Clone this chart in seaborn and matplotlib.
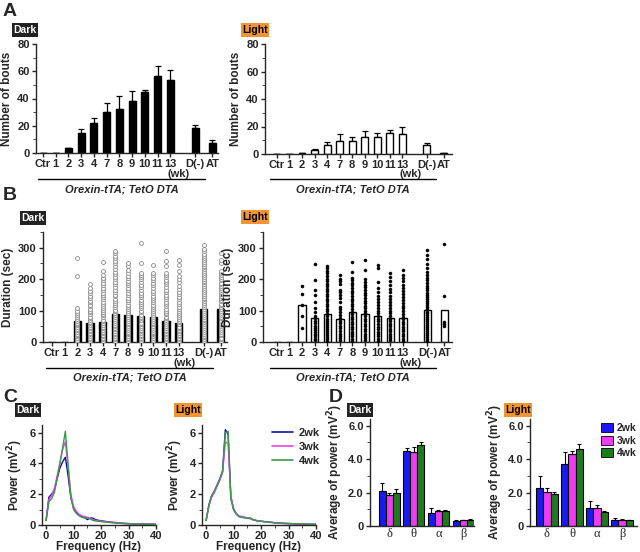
import matplotlib
matplotlib.use('Agg')
import matplotlib.pyplot as plt
from matplotlib.lines import Line2D
from matplotlib.patches import Patch
from matplotlib.ticker import MultipleLocator
import seaborn as sns
import pandas as pd
import numpy as np

# ---------------- data ----------------
categories = ['Ctr', '1', '2', '3', '4', '7', '8', '9', '10', '11', '13', 'D(-)', 'AT']

bouts_dark = [0, 0, 3.5, 15, 22, 30, 32.5, 38, 45, 56.5, 53.5, 18, 7]
bouts_dark_err = [0, 0, 0.5, 2.5, 3.5, 6.5, 9, 7.5, 1.5, 7.5, 7.5, 2.5, 2.5]
bouts_light = [0, 0, 0.5, 3.2, 6.8, 9.8, 9.8, 12.2, 12.7, 15.6, 14.4, 6.8, 0.5]
bouts_light_err = [0, 0, 0.3, 0.5, 1.7, 4.9, 2.9, 4.2, 2.4, 2.2, 4.9, 1.2, 0.4]

dur_dark_mean = [0, 0, 67, 62, 65, 89, 86, 83, 80, 68, 62, 104, 105]
dur_light_mean = [0, 0, 117, 76, 89, 73, 95, 88, 83, 76, 77, 102, 102]

# individual bouts (sec), per group
dur_dark_pts = {
    '2': [3, 7, 12, 18, 22, 27, 33, 38, 42, 47, 53, 58, 62, 68, 73, 79, 85, 92, 100, 109, 209, 267],
    '3': [4, 9, 13, 19, 24, 28, 34, 39, 45, 49, 55, 60, 64, 71, 76, 81, 88, 95, 99, 106, 113, 118, 126, 131, 139, 147, 155, 162, 171, 184],
    '4': [3, 8, 14, 18, 23, 29, 33, 39, 44, 48, 54, 61, 66, 71, 78, 85, 90, 97, 103, 109, 114, 122, 128, 137, 143, 151, 157, 166, 173, 181, 189, 197, 205, 213, 225, 254],
    '7': [4, 9, 13, 19, 25, 29, 34, 40, 44, 50, 55, 61, 68, 73, 80, 85, 91, 98, 103, 111, 117, 123, 131, 138, 146, 151, 160, 167, 176, 183, 192, 199, 208, 215, 223, 233, 241, 250, 257, 266, 274, 282, 291],
    '8': [3, 8, 12, 18, 24, 28, 33, 39, 44, 51, 56, 61, 68, 74, 79, 86, 93, 98, 105, 111, 119, 127, 133, 141, 148, 155, 164, 171, 180, 188, 195, 205, 211, 220, 230, 241, 251],
    '9': [4, 9, 14, 19, 23, 29, 35, 39, 45, 52, 57, 62, 69, 76, 81, 87, 94, 99, 107, 113, 121, 128, 134, 143, 150, 157, 166, 174, 181, 190, 199, 206, 213, 220, 251, 315],
    '10': [3, 7, 13, 18, 24, 28, 33, 38, 43, 50, 57, 62, 67, 74, 81, 86, 92, 99, 105, 111, 119, 126, 134, 140, 147, 156, 163, 172, 180, 187, 196, 204, 213, 220, 246],
    '11': [4, 9, 13, 18, 24, 29, 35, 39, 45, 51, 56, 63, 70, 75, 81, 88, 93, 100, 106, 114, 122, 127, 136, 142, 151, 158, 165, 174, 183, 190, 198, 207, 214, 220, 241, 259, 288],
    '13': [3, 8, 14, 19, 23, 28, 34, 38, 44, 49, 56, 63, 67, 73, 80, 86, 92, 99, 104, 112, 121, 127, 137, 144, 153, 160, 170, 179, 190, 199, 211, 226, 245, 262],
    'D(-)': [3, 8, 15, 20, 27, 33, 38, 45, 51, 56, 63, 69, 74, 81, 87, 92, 99, 106, 111, 117, 124, 129, 136, 141, 147, 154, 159, 166, 171, 177, 184, 190, 195, 202, 207, 214, 219, 226, 231, 238, 243, 249, 256, 261, 268, 274, 281, 289, 297, 308],
    'AT': [4, 9, 14, 21, 26, 32, 39, 44, 50, 57, 62, 68, 75, 80, 86, 93, 98, 105, 110, 117, 122, 129, 135, 140, 147, 153, 158, 165, 171, 177, 184, 189, 196, 202, 207, 214, 219, 225, 251, 260, 283],
}
dur_light_pts = {
    '2': [45, 82, 118, 153, 177],
    '3': [6, 11, 16, 22, 27, 33, 39, 46, 52, 60, 67, 75, 84, 95, 108, 128, 148, 166, 198, 249],
    '4': [4, 10, 15, 22, 29, 34, 41, 47, 53, 61, 68, 74, 82, 90, 98, 105, 114, 121, 130, 138, 145, 154, 162, 169, 178, 186, 193, 202, 210, 219, 227, 235, 243],
    '7': [5, 12, 19, 27, 35, 44, 52, 61, 68, 77, 86, 95, 104, 112, 128, 141, 150, 158, 167, 185, 193, 200, 214],
    '8': [4, 11, 18, 25, 33, 41, 49, 57, 64, 72, 80, 88, 97, 105, 113, 121, 130, 138, 146, 155, 163, 171, 180, 188, 197, 205, 222, 253],
    '9': [5, 12, 19, 27, 34, 42, 50, 58, 66, 74, 82, 91, 99, 107, 115, 123, 131, 140, 148, 156, 165, 174, 182, 191, 200, 230, 260],
    '10': [4, 11, 18, 26, 33, 41, 49, 57, 66, 74, 82, 91, 99, 108, 117, 126, 136, 146, 158, 172, 190, 234, 246],
    '11': [5, 12, 19, 26, 34, 42, 50, 58, 66, 74, 83, 92, 100, 109, 118, 127, 137, 147, 158, 170, 181, 194, 206, 219],
    '13': [4, 11, 18, 26, 34, 41, 49, 57, 65, 73, 81, 90, 98, 107, 116, 125, 134, 143, 153, 163, 172, 182, 193, 203, 214, 228],
    'D(-)': [3, 9, 15, 21, 28, 34, 40, 47, 53, 59, 66, 72, 78, 85, 91, 97, 104, 110, 117, 123, 130, 136, 143, 150, 157, 164, 171, 179, 187, 196, 205, 214, 224, 236, 249, 263, 278, 292],
    'AT': [50, 58, 65, 145, 313],
}

freq = [0, 1, 2, 3, 4, 5, 6, 7, 8, 9, 10, 11, 12, 13, 14, 15, 16, 17, 18, 19, 20, 22, 24, 26, 28, 30, 32, 34, 36, 38, 40]
pow_dark_2wk = [0.3, 1.8, 2.0, 2.3, 3.0, 3.7, 4.1, 4.4, 3.2, 1.8, 1.1, 0.8, 0.65, 0.55, 0.5, 0.35, 0.45, 0.45, 0.35, 0.3, 0.28, 0.22, 0.18, 0.14, 0.11, 0.09, 0.08, 0.07, 0.06, 0.05, 0.05]
pow_dark_3wk = [0.3, 1.65, 1.9, 2.35, 3.2, 4.0, 4.9, 5.4, 3.8, 2.0, 1.2, 0.9, 0.7, 0.6, 0.55, 0.5, 0.45, 0.35, 0.3, 0.27, 0.25, 0.2, 0.17, 0.13, 0.1, 0.09, 0.08, 0.07, 0.06, 0.05, 0.05]
pow_dark_4wk = [0.3, 1.5, 1.7, 2.1, 3.0, 4.0, 5.0, 6.1, 3.9, 1.8, 1.0, 0.75, 0.6, 0.5, 0.45, 0.45, 0.4, 0.3, 0.27, 0.24, 0.22, 0.18, 0.15, 0.12, 0.1, 0.08, 0.07, 0.06, 0.05, 0.05, 0.04]
pow_light_2wk = [0.3, 1.3, 1.9, 2.2, 2.6, 3.0, 3.5, 6.2, 5.9, 1.8, 1.0, 0.7, 0.55, 0.5, 0.5, 0.45, 0.45, 0.35, 0.3, 0.27, 0.25, 0.2, 0.17, 0.13, 0.11, 0.1, 0.08, 0.07, 0.06, 0.05, 0.05]
pow_light_3wk = [0.3, 1.2, 1.8, 2.1, 2.5, 2.9, 3.4, 5.4, 5.3, 1.9, 1.1, 0.75, 0.6, 0.55, 0.5, 0.45, 0.4, 0.35, 0.3, 0.27, 0.24, 0.2, 0.16, 0.13, 0.11, 0.09, 0.08, 0.07, 0.06, 0.05, 0.05]
pow_light_4wk = [0.3, 1.25, 1.9, 2.2, 2.6, 3.0, 3.5, 6.0, 6.1, 1.7, 1.0, 0.7, 0.55, 0.5, 0.45, 0.45, 0.45, 0.35, 0.3, 0.26, 0.24, 0.2, 0.16, 0.13, 0.1, 0.09, 0.08, 0.07, 0.06, 0.05, 0.05]

bands = ['δ', 'θ', 'α', 'β']
weeks = ['2wk', '3wk', '4wk']
band_dark = {'2wk': [2.1, 4.5, 0.8, 0.32], '3wk': [1.85, 4.4, 0.88, 0.35], '4wk': [2.0, 4.85, 0.88, 0.38]}
band_dark_err = {'2wk': [0.5, 0.15, 0.25, 0.05], '3wk': [0.1, 0.35, 0.08, 0.03], '4wk': [0.2, 0.2, 0.05, 0.03]}
band_light = {'2wk': [2.3, 3.7, 1.05, 0.35], '3wk': [2.05, 4.3, 1.05, 0.37], '4wk': [1.9, 4.6, 0.85, 0.35]}
band_light_err = {'2wk': [0.7, 0.75, 0.45, 0.1], '3wk': [0.2, 0.2, 0.2, 0.05], '4wk': [0.15, 0.3, 0.05, 0.03]}

line_colors = {'2wk': '#10109a', '3wk': '#f040f0', '4wk': '#3a9a4a'}
bar_colors = {'2wk': '#1a1af0', '3wk': '#f03cf0', '4wk': '#1e7a1e'}
orange = '#f39433'

# ---------------- style ----------------
sns.set_style('ticks')
plt.rcParams['font.family'] = ['Liberation Sans', 'DejaVu Sans']
plt.rcParams['font.weight'] = 'bold'
plt.rcParams['axes.labelweight'] = 'bold'
plt.rcParams['axes.linewidth'] = 1.0
plt.rcParams['xtick.major.width'] = 1.0
plt.rcParams['ytick.major.width'] = 1.0
plt.rcParams['xtick.major.size'] = 3
plt.rcParams['ytick.major.size'] = 3
plt.rcParams['ytick.minor.size'] = 2
plt.rcParams['xtick.minor.size'] = 2
plt.rcParams['xtick.labelsize'] = 8
plt.rcParams['ytick.labelsize'] = 8
plt.rcParams['axes.labelsize'] = 8.5

W, H = 640, 552
fig = plt.figure(figsize=(W / 100, H / 100), dpi=100)


def add_ax(l, t, r, b):
    return fig.add_axes([l / W, 1 - b / H, (r - l) / W, (b - t) / H])


def ftext(x, y, s, **kw):
    fig.text(x / W, 1 - y / H, s, ha=kw.pop('ha', 'center'), va=kw.pop('va', 'center'), **kw)


def badge(x, y, s, dark=True):
    ftext(x, y, s, fontsize=7.5, fontweight='bold',
          color='white' if dark else 'black',
          bbox=dict(facecolor='#222222' if dark else orange, edgecolor='none', pad=1.2))


def style_ax(ax):
    sns.despine(ax=ax)
    ax.tick_params(pad=1.5)


xpos = np.array([0, 1, 2, 3, 4, 5, 6, 7, 8, 9, 10, 11.95, 13.3])


def group_axis(ax, wk_xy, line_x, line_y):
    ax.set_xticks(xpos)
    ax.set_xticklabels(categories)
    ftext(wk_xy[0], wk_xy[1], '(wk)', fontsize=8, fontweight='bold')
    fig.add_artist(Line2D([line_x[0] / W, line_x[1] / W], [1 - line_y / H] * 2, color='black', lw=1))
    ftext((line_x[0] + line_x[1]) / 2, line_y + 10, 'Orexin-tTA; TetO DTA', fontsize=8,
          fontweight='bold', style='italic')


# ---------------- A ----------------
ax = add_ax(36, 44, 218, 153)
ax.bar(xpos, bouts_dark, width=0.55, color='black', edgecolor='black', zorder=2)
ax.errorbar(xpos, bouts_dark, yerr=[np.zeros(len(xpos)), bouts_dark_err], fmt='none',
            ecolor='black', elinewidth=0.9, capsize=2, capthick=0.9, zorder=1)
ax.set_xlim(-0.55, 13.75)
ax.set_ylim(0, 80)
ax.set_yticks([0, 20, 40, 60, 80])
ax.yaxis.set_minor_locator(MultipleLocator(10))
ax.set_ylabel('Number of bouts', labelpad=3)
style_ax(ax)
group_axis(ax, (179, 174), (38, 205), 179)

ax = add_ax(265, 44, 452, 154)
ax.bar(xpos, bouts_light, width=0.55, color='white', edgecolor='black', linewidth=1, zorder=2)
ax.errorbar(xpos, bouts_light, yerr=[np.zeros(len(xpos)), bouts_light_err], fmt='none',
            ecolor='black', elinewidth=0.9, capsize=2, capthick=0.9, zorder=1)
ax.set_xlim(-0.95, 13.95)
ax.set_ylim(0, 80)
ax.set_yticks([0, 20, 40, 60, 80])
ax.yaxis.set_minor_locator(MultipleLocator(10))
ax.set_ylabel('Number of bouts', labelpad=3)
style_ax(ax)
group_axis(ax, (411, 174), (270, 436), 179)


# ---------------- B ----------------
def points_frame(pts):
    rows = []
    for i, c in enumerate(categories):
        for v in pts.get(c, []):
            rows.append({'x': xpos[i], 'dur': v})
    return pd.DataFrame(rows)


ax = add_ax(43, 232, 227, 342)
ax.bar(xpos, dur_dark_mean, width=0.58, color='black', edgecolor='black', zorder=1)
sns.scatterplot(data=points_frame(dur_dark_pts), x='x', y='dur', ax=ax, marker='o', s=8,
                facecolor='white', edgecolor='#8a8a8a', linewidth=0.6, zorder=3)
ax.set_xlim(-0.7, 13.8)
ax.set_ylim(0, 350)
ax.set_yticks([0, 100, 200, 300])
ax.yaxis.set_minor_locator(MultipleLocator(50))
ax.set_xlabel('')
ax.set_ylabel('Duration (sec)', labelpad=3)
style_ax(ax)
group_axis(ax, (185, 363), (46, 213), 368)

ax = add_ax(263, 232, 452, 342)
ax.bar(xpos, dur_light_mean, width=0.58, color='white', edgecolor='black', linewidth=1, zorder=1)
sns.scatterplot(data=points_frame(dur_light_pts), x='x', y='dur', ax=ax, marker='o', s=5,
                color='black', edgecolor='black', linewidth=0.3, zorder=3)
ax.set_xlim(-1.1, 13.9)
ax.set_ylim(0, 350)
ax.set_yticks([0, 100, 200, 300])
ax.yaxis.set_minor_locator(MultipleLocator(50))
ax.set_xlabel('')
ax.set_ylabel('Duration (sec)', labelpad=3)
style_ax(ax)
group_axis(ax, (411, 363), (270, 436), 368)

# ---------------- C ----------------
for (l, r), series in [((42, 156), [pow_dark_2wk, pow_dark_3wk, pow_dark_4wk]),
                       ((202, 316), [pow_light_2wk, pow_light_3wk, pow_light_4wk])]:
    ax = add_ax(l, 425, r, 525)
    df = pd.concat([pd.DataFrame({'freq': freq, 'power': s, 'week': w}) for s, w in zip(series, weeks)])
    sns.lineplot(data=df, x='freq', y='power', hue='week', palette=line_colors, ax=ax,
                 legend=False, linewidth=1.0)
    ax.set_xlim(-1.5, 40)
    ax.set_ylim(0, 6.5)
    ax.set_xticks([0, 10, 20, 30, 40])
    ax.set_yticks([0, 2, 4, 6])
    ax.xaxis.set_minor_locator(MultipleLocator(5))
    ax.yaxis.set_minor_locator(MultipleLocator(1))
    ax.set_xlabel('Frequency (Hz)', labelpad=0)
    ax.set_ylabel('Power (mV$^\\mathbf{2}$)', labelpad=3)
    style_ax(ax)

fig.legend(handles=[Line2D([0], [0], color=line_colors[w], lw=1.2, label=w) for w in weeks],
           loc='upper left', bbox_to_anchor=(262 / W, 1 - 418 / H), frameon=False,
           fontsize=8, handlelength=1.9, handletextpad=0.5, labelspacing=0.35)

# ---------------- D ----------------
for (l, r, x0, x1), vals, errs in [((370, 474, -0.77, 3.44), band_dark, band_dark_err),
                                   ((530, 637, -0.68, 3.6), band_light, band_light_err)]:
    ax = add_ax(l, 419, r, 526)
    df = pd.concat([pd.DataFrame({'band': bands, 'power': vals[w], 'week': w}) for w in weeks])
    sns.barplot(data=df, x='band', y='power', hue='week', palette=bar_colors, ax=ax,
                errorbar=None, width=0.85, edgecolor='black', linewidth=0.8, legend=False,
                saturation=1)
    for cont, w in zip(ax.containers, weeks):
        cx = [p.get_x() + p.get_width() / 2 for p in cont.patches]
        ax.errorbar(cx, vals[w], yerr=[np.zeros(4), errs[w]], fmt='none', ecolor='black',
                    elinewidth=0.8, capsize=1.5, capthick=0.8, zorder=1)
    ax.set_xlim(x0, x1)
    ax.set_ylim(0, 6.4)
    ax.set_yticks([0, 2, 4, 6])
    ax.set_yticklabels(['0', '2.0', '4.0', '6.0'])
    ax.yaxis.set_minor_locator(MultipleLocator(1))
    ax.set_xticklabels(bands, fontfamily=['Liberation Serif', 'DejaVu Serif'], fontweight='normal',
                       fontsize=9)
    ax.tick_params(axis='x', length=0)
    ax.set_xlabel('')
    ax.set_ylabel('Average of power (mV$^\\mathbf{2}$)', labelpad=2)
    style_ax(ax)

fig.legend(handles=[Patch(facecolor=bar_colors[w], edgecolor='black', lw=0.6, label=w) for w in weeks],
           loc='upper left', bbox_to_anchor=(597 / W, 1 - 419 / H), frameon=False,
           fontsize=7.5, handlelength=1.1, handleheight=0.9, handletextpad=0.4, labelspacing=0.25,
           borderaxespad=0.2, borderpad=0.2)

# ---------------- labels & badges ----------------
for s, x, y in [('A', 10, 11), ('B', 10, 196), ('C', 10, 397), ('D', 336, 397)]:
    ftext(x, y, s, fontsize=14, fontweight='bold')

badge(25, 30, 'Dark')
badge(255, 30, 'Light', dark=False)
badge(33, 218, 'Dark')
badge(255, 217, 'Light', dark=False)
badge(28, 410, 'Dark')
badge(188, 410, 'Light', dark=False)
badge(360, 410, 'Dark')
badge(518, 410, 'Light', dark=False)

fig.savefig('out.png', dpi=100)
